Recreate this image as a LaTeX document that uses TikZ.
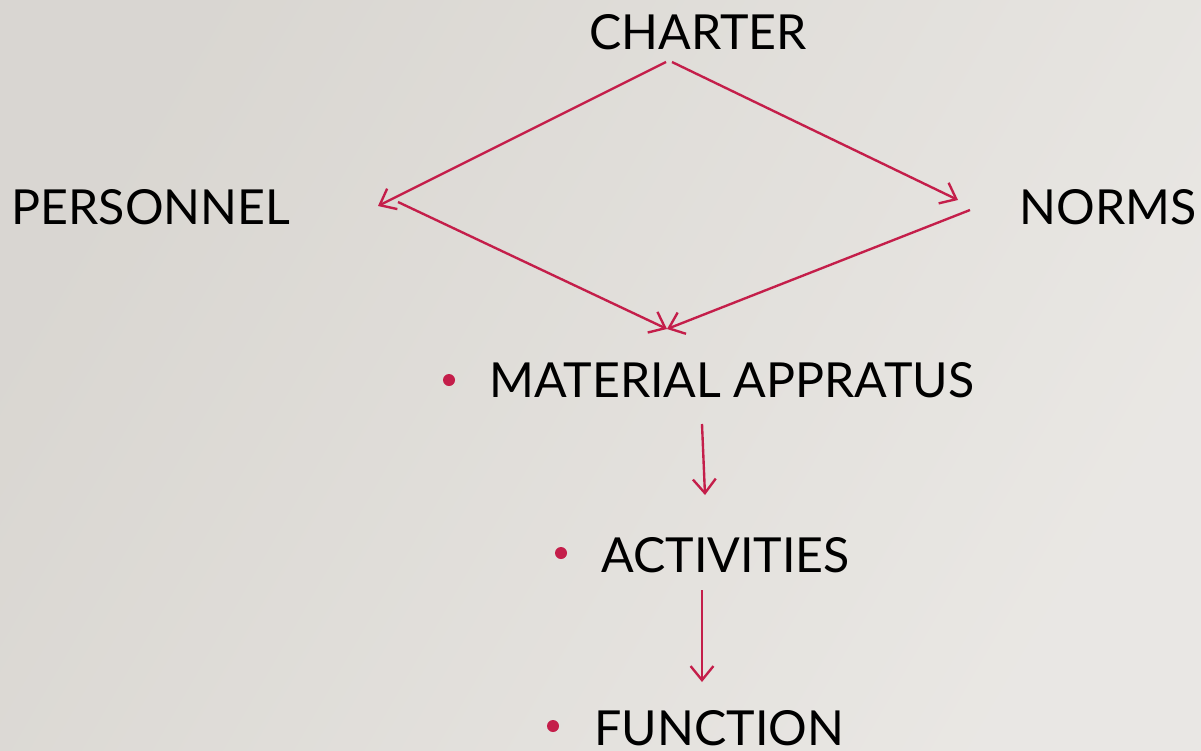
\documentclass[tikz,border=0pt]{standalone}
\usepackage{fontspec}
\setmainfont{Lato}
\usetikzlibrary{arrows.meta}
\definecolor{linkred}{HTML}{C41E4A}
\definecolor{paper}{HTML}{E0DDD8}
\tikzset{
  label/.style={inner sep=0pt, anchor=center, font=\fontsize{27.5}{31}\selectfont},
  link/.style={draw=linkred, line width=1.35pt, -{Straight Barb[length=8pt,width=13pt,line width=1.35pt]}},
  dot/.style={fill=linkred, draw=none}
}
\begin{document}
\begin{tikzpicture}[x=0.02cm, y=-0.02cm]
        \shade [left color=paper!97!black, right color=paper!70!white, shading angle=60] (0,0) rectangle (1201,751);
        \useasboundingbox (0,0) rectangle (1201,751);

        \node [label] (charter) at (698,32) {CHARTER};
        \node [label] (personnel) at (151,207) {PERSONNEL};
        \node [label] (norms) at (1108,207) {NORMS};
        \node [label, anchor=west] (material) at (489,380) {MATERIAL APPRATUS};
        \node [label, anchor=west] (activities) at (601,555) {ACTIVITIES};
        \node [label, anchor=west] (function) at (594,728) {FUNCTION};

        \fill [dot] (449,380) circle (6);
        \fill [dot] (561,553) circle (6);
        \fill [dot] (553,726) circle (6);

        \coordinate (charter-sw) at (666,62);
        \coordinate (charter-se) at (672,62);
        \coordinate (personnel-e) at (378,206);
        \coordinate (personnel-out) at (398,202);
        \coordinate (norms-w) at (958,200);
        \coordinate (norms-out) at (970,210);
        \coordinate (material-n) at (667,329);
        \coordinate (material-s) at (702,424);
        \coordinate (activities-n) at (705,495);
        \coordinate (activities-s) at (702,590);
        \coordinate (function-n) at (702,682);

        \draw [link] (charter-sw) -- (personnel-e);
        \draw [link] (charter-se) -- (norms-w);
        \draw [link] (personnel-out) -- (material-n);
        \draw [link] (norms-out) -- (material-n);
        \draw [link] (material-s) -- (activities-n);
        \draw [link] (activities-s) -- (function-n);

      \end{tikzpicture}
\end{document}
